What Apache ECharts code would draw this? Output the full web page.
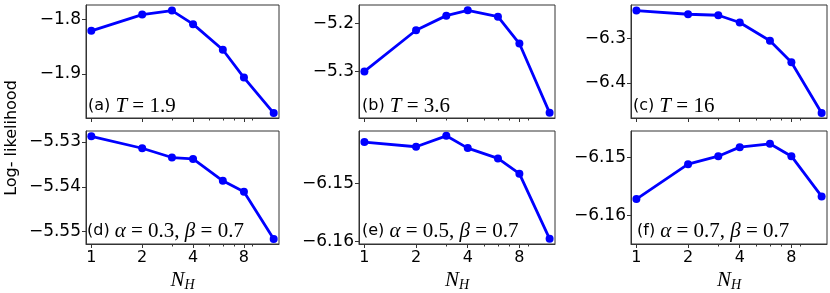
<!DOCTYPE html>
<html><head><meta charset="utf-8">
<script src="https://cdn.jsdelivr.net/npm/echarts@6/dist/echarts.min.js"></script>
<style>html,body{margin:0;padding:0;background:#fff}#c{width:830px;height:293px}</style>
</head><body><div id="c"></div>
<script>
// ---- data ----
const nH = [1, 2, 3, 4, 6, 8, 12];
const xMajorTicks = [1, 2, 4, 8];
const xMinorTicks = [3, 5, 6, 7, 9];
const valuesA = [-1.8207, -1.7909, -1.7835, -1.8085, -1.8555, -1.9067, -1.9720];
const valuesB = [-5.3000, -5.2145, -5.1841, -5.1730, -5.1862, -5.2421, -5.3862];
const valuesC = [-6.2385, -6.2467, -6.2489, -6.2652, -6.3059, -6.3541, -6.4674];
const valuesD = [-5.52874, -5.53141, -5.53348, -5.53378, -5.53867, -5.54110, -5.55163];
const valuesE = [-6.14291, -6.14371, -6.14183, -6.14394, -6.14571, -6.14834, -6.15954];
const valuesF = [-6.15721, -6.15116, -6.14977, -6.14820, -6.14762, -6.14977, -6.15674];
const yTicksA = [-1.9, -1.8];
const yTicksB = [-5.3, -5.2];
const yTicksC = [-6.4, -6.3];
const yTicksD = [-5.55, -5.54, -5.53];
const yTicksE = [-6.16, -6.15];
const yTicksF = [-6.16, -6.15];
const yRangeA = [-1.9811, -1.7732];
const yRangeB = [-5.3969, -5.1620];
const yRangeC = [-6.4785, -6.2260];
const yRangeD = [-5.55277, -5.52756];
const yRangeE = [-6.16043, -6.14100];
const yRangeF = [-6.16500, -6.14540];
const xRange = [0.93, 12.9];
const panelTags = ['(a)', '(b)', '(c)', '(d)', '(e)', '(f)'];
const panelParams = [
  [['T', ' = 1.9']],
  [['T', ' = 3.6']],
  [['T', ' = 16']],
  [['α', ' = 0.3, '], ['β', ' = 0.7']],
  [['α', ' = 0.5, '], ['β', ' = 0.7']],
  [['α', ' = 0.7, '], ['β', ' = 0.7']]
];
const yLabel = 'Log- likelihood';
const xLabelMain = 'N';
const xLabelSub = 'H';

// ---- layout ----
const panels = [
  {vals: valuesA, ticks: yTicksA, range: yRangeA, dec: 1, grid: {left: 86, top: 5, width: 193, height: 113}, tag: [88, 96], bottomRow: false},
  {vals: valuesB, ticks: yTicksB, range: yRangeB, dec: 1, grid: {left: 359, top: 5, width: 196, height: 113}, tag: [362, 96], bottomRow: false},
  {vals: valuesC, ticks: yTicksC, range: yRangeC, dec: 1, grid: {left: 631, top: 5, width: 196, height: 113}, tag: [633, 96], bottomRow: false},
  {vals: valuesD, ticks: yTicksD, range: yRangeD, dec: 2, grid: {left: 86, top: 131, width: 193, height: 114}, tag: [87, 221], bottomRow: true},
  {vals: valuesE, ticks: yTicksE, range: yRangeE, dec: 2, grid: {left: 359, top: 131, width: 196, height: 114}, tag: [362, 221], bottomRow: true},
  {vals: valuesF, ticks: yTicksF, range: yRangeF, dec: 2, grid: {left: 631, top: 131, width: 196, height: 114}, tag: [637, 221], bottomRow: true}
];

const AX = '#333';
const SANS = 'DejaVu Sans';
const SERIF = 'Liberation Serif';

const grid = [], xAxis = [], yAxis = [], series = [], title = [];
panels.forEach((p, i) => {
  grid.push(Object.assign({show: true, borderColor: AX, borderWidth: 1, backgroundColor: 'transparent', containLabel: false}, p.grid));
  // major x axis
  xAxis.push({
    type: 'log', logBase: 2, gridIndex: i, min: xRange[0], max: xRange[1],
    axisLine: {show: true, lineStyle: {color: AX, width: 1}},
    axisTick: {show: true, inside: false, length: 4, lineStyle: {color: AX}, customValues: xMajorTicks},
    axisLabel: {show: p.bottomRow, customValues: xMajorTicks, fontFamily: SANS, fontSize: 16, color: '#000', margin: 6},
    splitLine: {show: false}, minorTick: {show: false}, minorSplitLine: {show: false},
    name: p.bottomRow ? '{n|' + xLabelMain + '}{s|' + xLabelSub + '}' : '',
    nameLocation: 'middle', nameGap: 26,
    nameTextStyle: {rich: {
      n: {fontFamily: SERIF, fontStyle: 'italic', fontSize: 21, lineHeight: 22, verticalAlign: 'top', color: '#000'},
      s: {fontFamily: SERIF, fontStyle: 'italic', fontSize: 14, lineHeight: 13, padding: [11, 0, 0, 0], verticalAlign: 'bottom', color: '#000'}
    }}
  });
  // minor x ticks
  xAxis.push({
    type: 'log', logBase: 2, gridIndex: i, min: xRange[0], max: xRange[1], position: 'bottom',
    axisLine: {show: false},
    axisTick: {show: true, inside: false, length: 2.5, lineStyle: {color: AX}, customValues: xMinorTicks},
    axisLabel: {show: false}, splitLine: {show: false}
  });
  yAxis.push({
    type: 'value', gridIndex: i, min: p.range[0], max: p.range[1],
    axisLine: {show: true, lineStyle: {color: AX, width: 1}},
    axisTick: {show: true, inside: false, length: 4, lineStyle: {color: AX}, customValues: p.ticks},
    axisLabel: {customValues: p.ticks, fontFamily: SANS, fontSize: 17, color: '#000', margin: 5,
      formatter: v => v.toFixed(p.dec).replace('-', '\u2212')},
    splitLine: {show: false}
  });
  series.push({
    type: 'line', xAxisIndex: 2 * i, yAxisIndex: i,
    data: nH.map((x, k) => [x, p.vals[k]]),
    symbol: 'circle', symbolSize: 8, showSymbol: true,
    lineStyle: {color: '#0000ff', width: 2.8},
    itemStyle: {color: '#0000ff'},
    clip: false, animation: false, z: 3
  });
  let txt = '{t|' + panelTags[i] + ' }';
  panelParams[i].forEach(([sym, rest]) => { txt += '{m|' + sym + '}{r|' + rest + '}'; });
  title.push({
    text: txt, left: p.tag[0], top: p.tag[1], padding: 0,
    textStyle: {fontWeight: 'normal', rich: {
      t: {fontFamily: SANS, fontWeight: 'normal', fontSize: 16, color: '#000', lineHeight: 20},
      m: {fontFamily: SERIF, fontWeight: 'normal', fontStyle: 'italic', fontSize: 21, color: '#000', lineHeight: 20},
      r: {fontFamily: SERIF, fontWeight: 'normal', fontSize: 21, color: '#000', lineHeight: 20}
    }}
  });
});

const chart = echarts.init(document.getElementById('c'), null, {renderer: 'canvas'});
chart.setOption({
  animation: false,
  backgroundColor: '#fff',
  grid, xAxis, yAxis, series, title,
  graphic: [{
    type: 'text', x: 12, y: 138, rotation: Math.PI / 2,
    style: {text: yLabel, font: '16px "DejaVu Sans"', fill: '#000', align: 'center', verticalAlign: 'middle'}
  }]
});
</script>
</body></html>
